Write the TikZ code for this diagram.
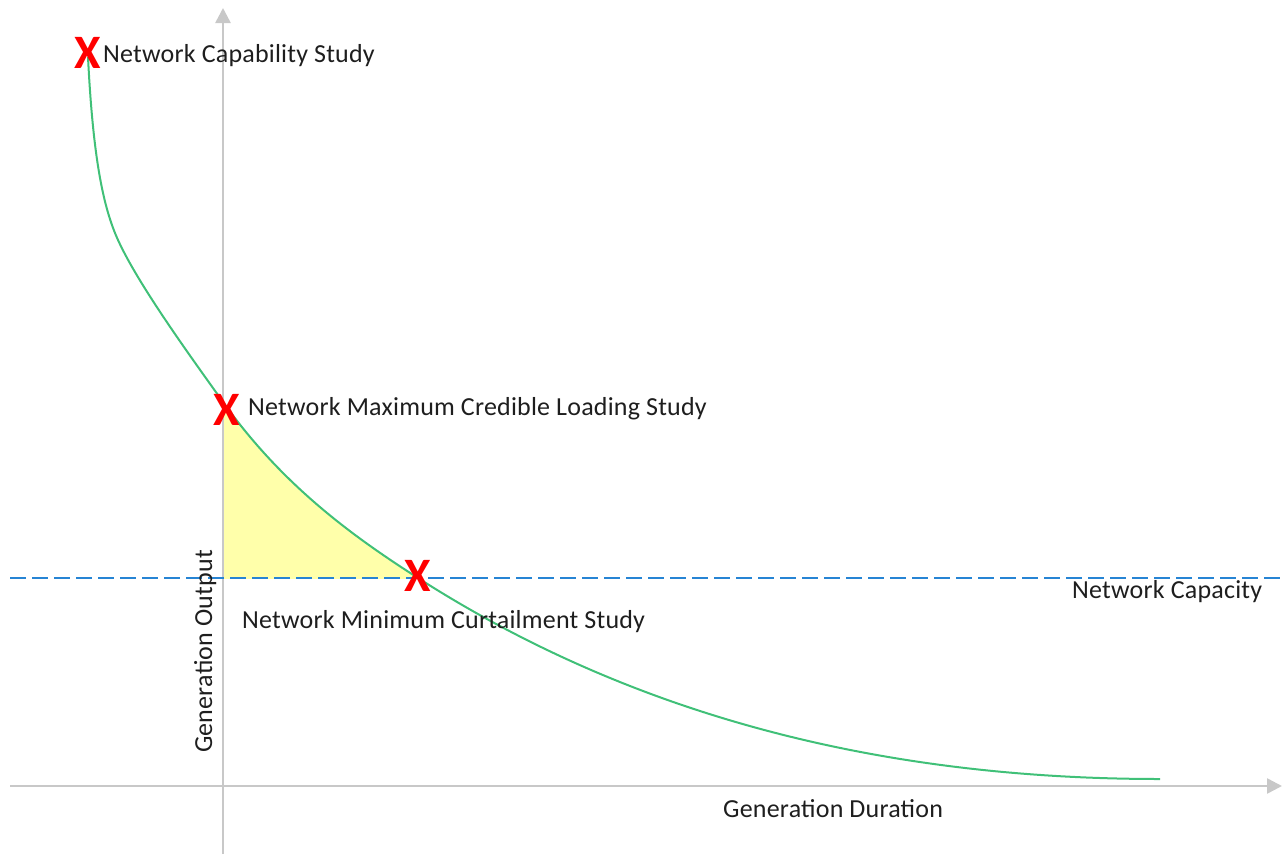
\documentclass[tikz,border=0pt]{standalone}
\usepackage{fontspec}
\setmainfont{Carlito}[LetterSpace=0.8]
\usetikzlibrary{arrows.meta}

\definecolor{axisgray}{RGB}{200,200,200}
\definecolor{capblue}{RGB}{38,132,212}
\definecolor{curvegreen}{RGB}{64,192,120}
\definecolor{areayellow}{RGB}{255,255,170}
\definecolor{marker}{RGB}{255,0,0}
\definecolor{ink}{RGB}{30,30,30}

% duration curve (pixel grid, y downwards), tangent-continuous convex pieces
\def\durationcurve{(88,57)
  .. controls (93,157) and (103,207) .. (118,240)
  .. controls (138,284) and (188,353) .. (223,402)
  .. controls (283,486) and (353,536.4) .. (418,578)
  .. controls (618,706) and (860,779) .. (1160,779)}

\begin{document}
\begin{tikzpicture}[x=1pt,y=-1pt,
  axisline/.style={draw=axisgray,line width=2.5pt,
    -{Triangle[length=15pt,width=15pt]}},
  capline/.style={draw=capblue,line width=2pt,dash pattern=on 16pt off 6pt},
  curveline/.style={draw=curvegreen,line width=2pt},
  xmark/.style={text=marker,inner sep=0pt,font=\fontsize{48}{50}\selectfont\bfseries},
  lbl/.style={text=ink,inner sep=0pt,font=\fontsize{26}{30}\selectfont}]

\useasboundingbox (0,0) rectangle (1285,854);

% area between the axis, the capacity line and the curve
\begin{scope}
  \clip (223,0) rectangle (1285,578);
  \fill[areayellow] \durationcurve -- (1160,854) -- (0,854) -- cycle;
\end{scope}

% axes
\coordinate (ybot) at (223,854);
\coordinate (ytop) at (223,8);
\coordinate (xleft) at (10,786);
\coordinate (xright) at (1282,786);
\draw[axisline] (ybot) -- (ytop);
\draw[axisline] (xleft) -- (xright);

% network capacity line
\coordinate (capleft) at (10,578);
\coordinate (capright) at (1285,578);
\draw[capline] (capleft) -- (capright);

% generation duration curve
\draw[curveline] \durationcurve;

% study markers
\node[xmark] (m1) at (88,53) {X};
\node[xmark] (m2) at (227,410) {X};
\node[xmark] (m3) at (418,576) {X};

% labels
\node[lbl,anchor=base west] (l1) at (103,62) {Network Capability Study};
\node[lbl,anchor=base west] (l2) at (248,415) {Network Maximum Credible Loading Study};
\node[lbl,anchor=base west] (l3) at (242,628) {Network Minimum Curtailment Study};
\node[lbl,anchor=base west] (l4) at (1072,598) {Network Capacity};
\node[lbl,anchor=base west] (l5) at (723,817) {Generation Duration};
\node[lbl,anchor=base west,rotate=90] (l6) at (212,753) {Generation Output};
\end{tikzpicture}
\end{document}
